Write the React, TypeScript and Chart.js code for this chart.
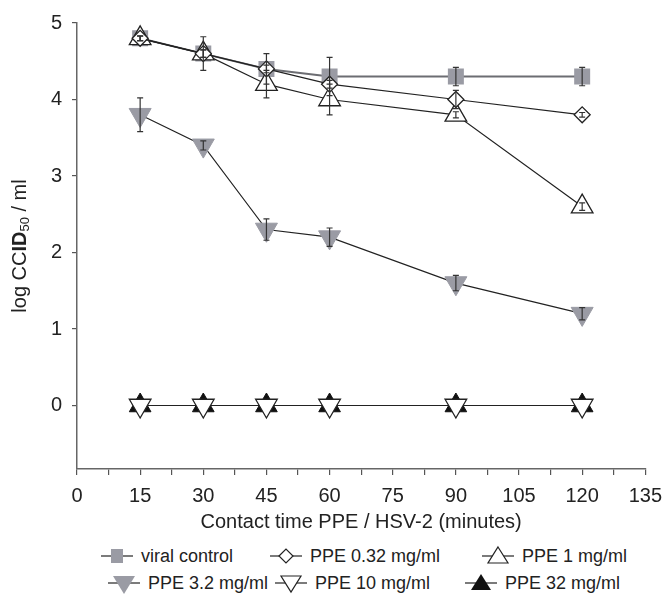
import React, { useEffect, useRef } from 'react';
import { Chart, registerables } from 'chart.js';

Chart.register(...registerables);

// ---- data ----
const times = [15, 30, 45, 60, 90, 120];
const seriesLabels = ['viral control', 'PPE 0.32 mg/ml', 'PPE 1 mg/ml', 'PPE 3.2 mg/ml', 'PPE 10 mg/ml', 'PPE 32 mg/ml'];
const viralControl = [4.8, 4.6, 4.4, 4.3, 4.3, 4.3];
const viralControlErr = [0.03, 0.22, 0.2, 0.25, 0.12, 0.12];
const ppe032 = [4.8, 4.6, 4.4, 4.2, 4.0, 3.8];
const ppe032Err = [0.03, 0.05, 0.05, 0.05, 0.12, 0.03];
const ppe1 = [4.8, 4.6, 4.2, 4.0, 3.8, 2.6];
const ppe1Err = [0.03, 0.05, 0.18, 0.2, 0.04, 0.05];
const ppe3_2 = [3.8, 3.4, 2.3, 2.2, 1.6, 1.2];
const ppe3_2Err = [0.22, 0.06, 0.14, 0.12, 0.1, 0.08];
const ppe10 = [0, 0, 0, 0, 0, 0];
const ppe32 = [0, 0, 0, 0, 0, 0];
const xTickValues = [0, 7.5, 15, 22.5, 30, 37.5, 45, 52.5, 60, 67.5, 75, 82.5, 90, 97.5, 105, 112.5, 120, 127.5, 135];
const xLabelEvery = 15;
const yTickValues = [0, 1, 2, 3, 4, 5];
const xTitle = 'Contact time PPE / HSV-2 (minutes)';

const GREY = '#9a9ba4';
const DARK = '#222';
const FONT = "'Liberation Sans', Arial, Helvetica, sans-serif";

const pts = (arr: number[]) => times.map((t, i) => ({ x: t, y: arr[i] }));

const errorBarPlugin = {
  id: 'errorBars',
  afterDatasetsDraw(chart: any) {
    const { ctx } = chart;
    const xs = chart.scales.x;
    const ys = chart.scales.y;
    ctx.save();
    ctx.strokeStyle = '#333';
    ctx.lineWidth = 1.2;
    chart.data.datasets.forEach((ds: any) => {
      if (!ds.errors) return;
      ds.data.forEach((p: any, i: number) => {
        const e = ds.errors[i];
        if (!e) return;
        const x = xs.getPixelForValue(p.x);
        const y1 = ys.getPixelForValue(p.y + e);
        const y2 = ys.getPixelForValue(p.y - e);
        const c = 3;
        ctx.beginPath();
        ctx.moveTo(x, y1);
        ctx.lineTo(x, y2);
        ctx.moveTo(x - c, y1);
        ctx.lineTo(x + c, y1);
        ctx.moveTo(x - c, y2);
        ctx.lineTo(x + c, y2);
        ctx.stroke();
      });
    });
    ctx.restore();
  },
};

const yTitlePlugin = {
  id: 'yTitle',
  afterDraw(chart: any) {
    const { ctx, chartArea } = chart;
    const parts = [
      { t: 'log CC', f: `20px ${FONT}`, dy: 0 },
      { t: 'ID', f: `bold 20px ${FONT}`, dy: 0 },
      { t: '50', f: `13px ${FONT}`, dy: 5 },
      { t: ' / ml', f: `20px ${FONT}`, dy: 0 },
    ];
    ctx.save();
    ctx.translate(20, (chartArea.top + chartArea.bottom) / 2);
    ctx.rotate(-Math.PI / 2);
    ctx.fillStyle = DARK;
    ctx.textBaseline = 'middle';
    ctx.textAlign = 'left';
    let total = 0;
    parts.forEach((p) => {
      ctx.font = p.f;
      total += ctx.measureText(p.t).width;
    });
    let x = -total / 2;
    parts.forEach((p) => {
      ctx.font = p.f;
      ctx.fillText(p.t, x, p.dy);
      x += ctx.measureText(p.t).width;
    });
    ctx.restore();
  },
};

function LegendMarker({ kind }: { kind: string }) {
  const w = 32;
  const h = 24;
  const cx = w / 2;
  const cy = h / 2;
  let shape: any = null;
  if (kind === 'square') shape = <rect x={cx - 6} y={cy - 7} width={12} height={14} fill={GREY} />;
  if (kind === 'diamond') shape = <polygon points={`${cx - 7},${cy} ${cx},${cy - 7} ${cx + 7},${cy} ${cx},${cy + 7}`} fill="#fff" stroke={DARK} strokeWidth={1.2} />;
  if (kind === 'tri') shape = <polygon points={`${cx},${cy - 9} ${cx + 10},${cy + 7} ${cx - 10},${cy + 7}`} fill="#fff" stroke={DARK} strokeWidth={1.2} />;
  if (kind === 'greyDown') shape = <polygon points={`${cx - 11},${cy - 7} ${cx + 11},${cy - 7} ${cx},${cy + 11}`} fill={GREY} />;
  if (kind === 'whiteDown') shape = <polygon points={`${cx - 10},${cy - 7} ${cx + 10},${cy - 7} ${cx},${cy + 9}`} fill="#fff" stroke={DARK} strokeWidth={1.2} />;
  if (kind === 'blackUp') shape = <polygon points={`${cx},${cy - 9} ${cx + 10},${cy + 7} ${cx - 10},${cy + 7}`} fill="#111" />;
  return (
    <svg width={w} height={h} style={{ display: 'block' }}>
      <line x1={0} y1={cy} x2={w} y2={cy} stroke="#333" strokeWidth={1.3} />
      {shape}
    </svg>
  );
}

const legendKinds = ['square', 'diamond', 'tri', 'greyDown', 'whiteDown', 'blackUp'];
const legendTextLeft = [141, 310, 522, 148, 315, 505];
const legendRowY = [556, 583];

export default function App() {
  const ref = useRef<HTMLCanvasElement | null>(null);

  useEffect(() => {
    if (!ref.current) return;
    const lineBase = { showLine: true, borderWidth: 1.2, borderColor: DARK, tension: 0 };
    const chart = new Chart(ref.current, {
      type: 'scatter',
      data: {
        datasets: [
          {
            ...lineBase,
            label: seriesLabels[0],
            data: pts(viralControl),
            errors: viralControlErr,
            borderColor: '#6c6d72',
            borderWidth: 2,
            pointStyle: 'rect',
            pointRadius: 11.3,
            pointBackgroundColor: GREY,
            pointBorderColor: GREY,
            pointBorderWidth: 0,
            order: 10,
          } as any,
          {
            ...lineBase,
            label: seriesLabels[1],
            data: pts(ppe032),
            errors: ppe032Err,
            pointStyle: 'rectRot',
            pointRadius: 8,
            pointBackgroundColor: '#fff',
            pointBorderColor: DARK,
            pointBorderWidth: 1.3,
            order: 1,
          } as any,
          {
            ...lineBase,
            label: seriesLabels[2],
            data: pts(ppe1),
            errors: ppe1Err,
            pointStyle: 'triangle',
            pointRadius: 12.5,
            pointBackgroundColor: '#fff',
            pointBorderColor: DARK,
            pointBorderWidth: 1.3,
            order: 2,
          } as any,
          {
            ...lineBase,
            label: seriesLabels[3],
            data: pts(ppe3_2),
            errors: ppe3_2Err,
            pointStyle: 'triangle',
            pointRotation: 180,
            pointRadius: 12.7,
            pointBackgroundColor: GREY,
            pointBorderColor: GREY,
            pointBorderWidth: 1,
            order: 3,
          } as any,
          {
            ...lineBase,
            label: seriesLabels[4],
            data: pts(ppe10),
            pointStyle: 'triangle',
            pointRotation: 180,
            pointRadius: 12.5,
            pointBackgroundColor: '#fff',
            pointBorderColor: DARK,
            pointBorderWidth: 1.3,
            order: 4,
          } as any,
          {
            ...lineBase,
            label: seriesLabels[5],
            data: pts(ppe32),
            pointStyle: 'triangle',
            pointRadius: 12.5,
            pointBackgroundColor: '#111',
            pointBorderColor: '#111',
            pointBorderWidth: 1,
            order: 5,
          } as any,
        ],
      },
      options: {
        animation: false,
        responsive: false,
        layout: { padding: { left: 0, right: 17, top: 23, bottom: 6 } },
        plugins: { legend: { display: false }, tooltip: { enabled: false } },
        scales: {
          x: {
            type: 'linear',
            min: 0,
            max: 135,
            afterBuildTicks: (s: any) => {
              s.ticks = xTickValues.map((v) => ({ value: v }));
            },
            afterFit: (s: any) => {
              s.height = 65;
            },
            ticks: {
              autoSkip: false,
              maxRotation: 0,
              padding: 9,
              color: DARK,
              font: { family: FONT, size: 20 },
              callback: (v: any) => (Number(v) % xLabelEvery === 0 ? String(v) : ''),
            },
            grid: { drawOnChartArea: false, drawTicks: true, tickLength: 6, color: '#555', lineWidth: 1.2 },
            border: { color: '#666', width: 1.5 },
            title: {
              display: true,
              text: xTitle,
              color: DARK,
              font: { family: FONT, size: 20 },
              padding: { top: 2, bottom: 0 },
            },
          },
          y: {
            type: 'linear',
            min: -0.83,
            max: 5,
            afterBuildTicks: (s: any) => {
              s.ticks = yTickValues.map((v) => ({ value: v }));
            },
            afterFit: (s: any) => {
              s.width = 77;
            },
            ticks: {
              padding: 10,
              color: DARK,
              font: { family: FONT, size: 20 },
            },
            grid: { drawOnChartArea: false, drawTicks: true, tickLength: 5, color: '#555', lineWidth: 1.2 },
            border: { color: '#666', width: 1.5 },
          },
        },
      },
      plugins: [errorBarPlugin, yTitlePlugin],
    } as any);
    return () => chart.destroy();
  }, []);

  return (
    <div style={{ position: 'absolute', left: 0, top: 0, width: 671, height: 602, background: '#fff', overflow: 'hidden' }}>
      <canvas ref={ref} width={671} height={540} style={{ position: 'absolute', left: 0, top: 0, width: 671, height: 540 }} />
      {seriesLabels.map((lab, i) => (
        <div
          key={lab}
          style={{
            position: 'absolute',
            left: legendTextLeft[i] - 40,
            top: legendRowY[Math.floor(i / 3)] - 12,
            height: 24,
            display: 'flex',
            alignItems: 'center',
            fontFamily: FONT,
            fontSize: 18,
            color: DARK,
            whiteSpace: 'nowrap',
          }}
        >
          <LegendMarker kind={legendKinds[i]} />
          <span style={{ marginLeft: 8 }}>{lab}</span>
        </div>
      ))}
    </div>
  );
}
